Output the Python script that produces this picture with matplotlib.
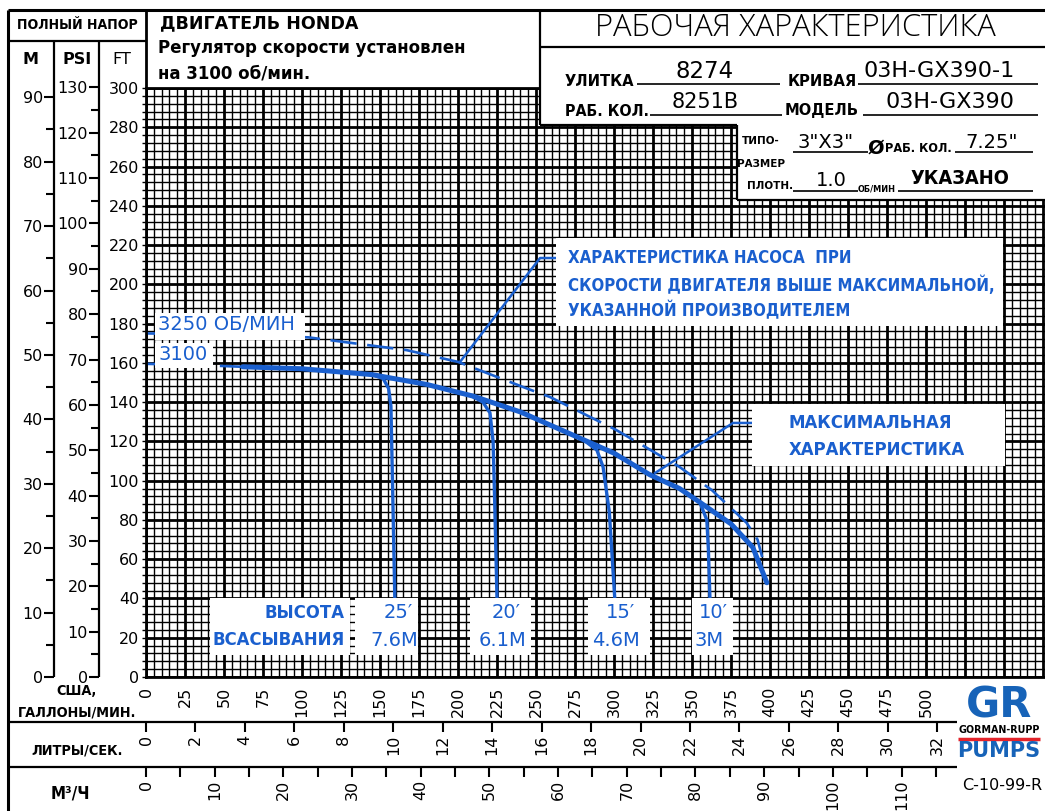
import matplotlib
matplotlib.use('Agg')
import matplotlib.pyplot as plt
import matplotlib.font_manager as fm
from matplotlib.patches import Rectangle
from matplotlib.ticker import MultipleLocator, FixedLocator, FuncFormatter

# head / capacity data read from the sheet (US gal/min, total head in ft)
lead_gpm = [0, 30, 62]
lead_ft = [159.5, 159, 158]

gpm_3100 = [62, 100, 145, 180, 210, 240, 260, 280, 300, 323, 342, 355, 375, 389, 398]
ft_3100 = [158, 157, 154, 149, 143, 135, 128, 121, 114, 103, 96, 89, 78, 66, 48]

gpm_3250 = [0, 50, 104, 167, 200, 244, 259, 301, 342, 363, 385, 392, 395]
ft_3250 = [175, 174.5, 173, 166.5, 160.5, 147, 142.6, 126, 107, 95, 78.5, 70, 61]

# suction lift branches
lift25_gpm = [145, 152, 155.5, 157, 158, 159.5]
lift25_ft = [154, 152, 147, 138, 100, 40]
lift20_gpm = [209, 216, 220.5, 222.5, 223.5, 225]
lift20_ft = [143, 140, 134.5, 120, 90, 40]
lift15_gpm = [280, 289, 293, 297, 300.5]
lift15_ft = [121, 115.6, 107, 84, 40]
lift10_gpm = [355, 359.5, 360.5, 361.5]
lift10_ft = [89, 80, 65, 40]

# leader lines of the two callouts
lead1_gpm = [265, 252.6, 201.3]
lead1_ft = [213.4, 213.4, 160.5]
lead2_gpm = [388.5, 376.3, 326.3]
lead2_ft = [129.4, 129.4, 103.9]

lift_top = ['25′', '20′', '15′', '10′']
lift_bot = ['7.6M', '6.1M', '4.6M', '3M']
lift_x = [398, 506, 620, 713]
lift_box = [(355, 418), (470, 531), (588, 650), (692, 733)]

gpm_labels = list(range(0, 501, 25))
ls_labels = list(range(0, 33, 2))
m3h_labels = list(range(0, 111, 10))

FT_TO_M = 0.3048
FT_PER_PSI = 2.31
GPM_TO_LS = 0.0630902
GPM_TO_M3H = 0.2271247

BLUE = '#1a5fce'
# use the condensed DejaVu cut when the system has it
cond_file = fm.findfont(fm.FontProperties(family='DejaVu Sans', stretch='condensed', weight='bold'))
NS = 1.1 if 'Condensed' in cond_file else 1.0

W, H = 1045, 811
fig = plt.figure(figsize=(W / 100, H / 100), dpi=100)


def px_box(x0, y0, x1, y1):
    return [x0 / W, 1 - y1 / H, (x1 - x0) / W, (y1 - y0) / H]


GX0, GX1, GY0, GY1 = 146, 1045, 88, 677
PXFT = (GY1 - GY0) / 300
xmax = (GX1 - GX0) / 1.56

# main grid
ax = fig.add_axes(px_box(GX0, GY0, GX1, GY1))
ax.set_xlim(0, xmax)
ax.set_ylim(0, 300)
ax.xaxis.set_major_locator(MultipleLocator(25))
ax.xaxis.set_minor_locator(MultipleLocator(5))
ax.yaxis.set_major_locator(MultipleLocator(20))
ax.yaxis.set_minor_locator(MultipleLocator(4))
ax.grid(which='major', color='black', lw=2)
ax.grid(which='minor', color='black', lw=1)
ax.set_axisbelow(True)
ax.xaxis.set_major_formatter(FuncFormatter(lambda v, p: f'{v:.0f}' if v in gpm_labels else ''))
ax.tick_params(axis='x', which='both', length=0, labelrotation=90, labelsize=11.5, pad=7)
ax.tick_params(axis='y', which='both', length=3, width=1, labelsize=11.5, pad=2)
ax.spines['right'].set_visible(False)
for s in ['left', 'bottom', 'top']:
    ax.spines[s].set_linewidth(2)

ax.plot(lead_gpm, lead_ft, color=BLUE, lw=1.9, ls=(0, (10, 4)))
ax.plot(gpm_3250, ft_3250, color=BLUE, lw=1.9, ls=(0, (10, 4)))
ax.plot(gpm_3100, ft_3100, color=BLUE, lw=3.6, solid_capstyle='round')
for g, f in [(lift25_gpm, lift25_ft), (lift20_gpm, lift20_ft),
             (lift15_gpm, lift15_ft), (lift10_gpm, lift10_ft)]:
    ax.plot(g, f, color=BLUE, lw=2.4, solid_capstyle='butt')
ax.plot(lead1_gpm, lead1_ft, color=BLUE, lw=1.8)
ax.plot(lead2_gpm, lead2_ft, color=BLUE, lw=1.8)

# M and PSI columns
axm = fig.add_axes(px_box(54, GY0, 54.01, GY1))
axm.set_ylim(0, 300 * FT_TO_M)
axm.yaxis.set_major_locator(MultipleLocator(10))
axm.yaxis.set_minor_locator(MultipleLocator(5))

psi_top = GY1 - 130 * FT_PER_PSI * PXFT
axp = fig.add_axes(px_box(99, psi_top, 99.01, GY1))
axp.set_ylim(0, 130)
axp.yaxis.set_major_locator(MultipleLocator(10))
axp.yaxis.set_minor_locator(MultipleLocator(5))
for a in (axm, axp):
    a.set_xticks([])
    for s in a.spines.values():
        s.set_visible(False)
    a.tick_params(axis='y', which='major', length=7, width=1.5, labelsize=11.5, pad=1)
    a.tick_params(axis='y', which='minor', length=6, width=1.5)
    a.patch.set_alpha(0)
    a.set_zorder(6)

# litres/s and m3/h rows
axl = fig.add_axes(px_box(GX0, 722, GX1, 722.01))
axl.set_xlim(0, xmax * GPM_TO_LS)
axl.xaxis.set_major_locator(FixedLocator(ls_labels))
axc = fig.add_axes(px_box(GX0, 767, GX1, 767.01))
axc.set_xlim(0, xmax * GPM_TO_M3H)
axc.xaxis.set_major_locator(FixedLocator(m3h_labels))
axc.xaxis.set_minor_locator(FixedLocator(list(range(5, 116, 10))))
for a in (axl, axc):
    a.set_yticks([])
    for s in a.spines.values():
        s.set_visible(False)
    a.tick_params(axis='x', which='both', direction='out', length=7, width=1.5,
                  labelrotation=90, labelsize=11.5, pad=2)
    a.patch.set_alpha(0)
    a.set_zorder(6)

# frame, boxes and all the sheet text (pixel coordinates)
fr = fig.add_axes([0, 0, 1, 1])
fr.set_xlim(0, W)
fr.set_ylim(H, 0)
fr.axis('off')
fr.patch.set_alpha(0)
fr.set_zorder(5)


def line(xs, ys, lw=1.6, color='black'):
    fr.plot(xs, ys, color=color, lw=lw, solid_capstyle='butt')


def wbox(x0, y0, x1, y1):
    fr.add_patch(Rectangle((x0, y0), x1 - x0, y1 - y0, fc='white', ec='none'))


def txt(x, y, s, size=12, ha='left', color='black', weight='normal'):
    fr.text(x, y, s, fontsize=size, ha=ha, va='center', color=color,
            family='DejaVu Sans', fontweight=weight)


def txtn(x, y, s, size=12, ha='left', color='black'):
    # narrow bold lettering of the sheet
    fr.text(x, y, s, fontsize=size * NS, ha=ha, va='center', color=color,
            family='DejaVu Sans', fontweight='bold', fontstretch='condensed')


wbox(540, 47, W, 125)
wbox(737, 125, W, 200)

line([8, W], [10, 10], lw=2.2)
line([8, 8], [10, H], lw=2.2)
line([8, 146], [41, 41])
line([146, 146], [10, 88], lw=2)
line([54, 54], [41, GY1])
line([99, 99], [41, GY1])
line([540, 540], [10, 125])
line([540, W], [47, 47])
line([540, 737], [125, 125])
line([737, 737], [125, 200])
line([737, W], [200, 200])
line([8, 957], [722, 722])
line([8, 957], [767, 767])

txtn(77, 25, 'ПОЛНЫЙ НАПОР', size=9.2, ha='center')
txt(31, 60, 'M', size=11.5, ha='center', weight='bold')
txt(77, 60, 'PSI', size=11.5, ha='center', weight='bold')
txt(122, 60, 'FT', size=11.5, ha='center')

txt(160, 23, 'ДВИГАТЕЛЬ HONDA', size=12.6, weight='bold')
txt(158, 48, 'Регулятор скорости установлен', size=12, weight='bold')
txt(158, 74, 'на 3100 об/мин.', size=12, weight='bold')

fr.text(795, 28, 'РАБОЧАЯ ХАРАКТЕРИСТИКА', fontsize=22.2, ha='center', va='center',
        family=['Open Sans', 'DejaVu Sans'], fontweight='light')

# spec fields
txtn(565, 81, 'УЛИТКА', size=10.7)
line([637, 780], [84, 84], lw=1.2)
txt(705, 71, '8274', size=16.5, ha='center')
txtn(788, 81, 'КРИВАЯ', size=10.7)
line([858, 1038], [84, 84], lw=1.2)
txt(939, 71, '03H-GX390-1', size=16, ha='center')
txtn(565, 111, 'РАБ. КОЛ.', size=10.4)
line([650, 782], [115, 115], lw=1.2)
txt(705, 102, '8251B', size=15, ha='center')
txtn(785, 111, 'МОДЕЛЬ', size=10.7)
line([863, 1038], [115, 115], lw=1.2)
txt(950, 102, '03H-GX390', size=16, ha='center')
txtn(742, 141, 'ТИПО-', size=7.5)
txtn(737, 164, 'РАЗМЕР', size=7.5)
line([793, 868], [152, 152], lw=1.2)
txt(826, 142, '3"X3"', size=14, ha='center')
txt(868, 148, 'Ø', size=14, weight='bold')
txtn(885, 149, 'РАБ. КОЛ.', size=8.3)
line([955, 1033], [152, 152], lw=1.2)
txt(992, 142, '7.25"', size=14, ha='center')
txtn(747, 186, 'ПЛОТН.', size=7.5)
line([793, 858], [191, 191], lw=1.2)
txt(831, 181, '1.0', size=14, ha='center')
txtn(858, 189, 'ОБ/МИН', size=6)
line([898, 1033], [191, 191], lw=1.2)
txtn(960, 179, 'УКАЗАНО', size=13, ha='center')

# curve labels and callouts
wbox(155, 313, 305, 340)
txt(158, 325, '3250 ОБ/МИН', size=14, color=BLUE)
wbox(155, 343, 213, 368)
txt(158, 354, '3100', size=14, color=BLUE)

wbox(556, 238, 1003, 326)
txtn(568, 258, 'ХАРАКТЕРИСТИКА НАСОСА  ПРИ', size=11, color=BLUE)
txtn(568, 285, 'СКОРОСТИ ДВИГАТЕЛЯ ВЫШЕ МАКСИМАЛЬНОЙ,', size=11, color=BLUE)
txtn(568, 311, 'УКАЗАННОЙ ПРОИЗВОДИТЕЛЕМ', size=11, color=BLUE)

wbox(752, 404, 1005, 466)
txtn(789, 423, 'МАКСИМАЛЬНАЯ', size=12, color=BLUE)
txtn(789, 450, 'ХАРАКТЕРИСТИКА', size=12, color=BLUE)

wbox(210, 598, 350, 655)
txtn(345, 613, 'ВЫСОТА', size=12, ha='right', color=BLUE)
txtn(345, 640, 'ВСАСЫВАНИЯ', size=12, ha='right', color=BLUE)
for (b0, b1), x, t, b in zip(lift_box, lift_x, lift_top, lift_bot):
    wbox(b0, 598, b1, 655)
    txt(x, 613, t, size=14, ha='center', color=BLUE)
    txt(x - 4, 640, b, size=14, ha='center', color=BLUE)

# unit captions
txtn(77, 691, 'США,', size=9.4, ha='center')
txtn(77, 712, 'ГАЛЛОНЫ/МИН.', size=9.4, ha='center')
txtn(77, 750, 'ЛИТРЫ/СЕК.', size=9.4, ha='center')
txtn(70, 793, 'М³/Ч', size=11, ha='center')

# logo
txt(999, 705, 'GR', size=30, ha='center', color='#1763b8', weight='bold')
txtn(999, 730, 'GORMAN-RUPP', size=7, ha='center')
line([958, 1040], [739, 739], lw=2.5, color='#e3242b')
txt(999, 751, 'PUMPS', size=15, ha='center', color='#1763b8', weight='bold')
txt(1002, 786, 'C-10-99-R', size=11.5, ha='center')

fig.savefig('out.png', dpi=100)
